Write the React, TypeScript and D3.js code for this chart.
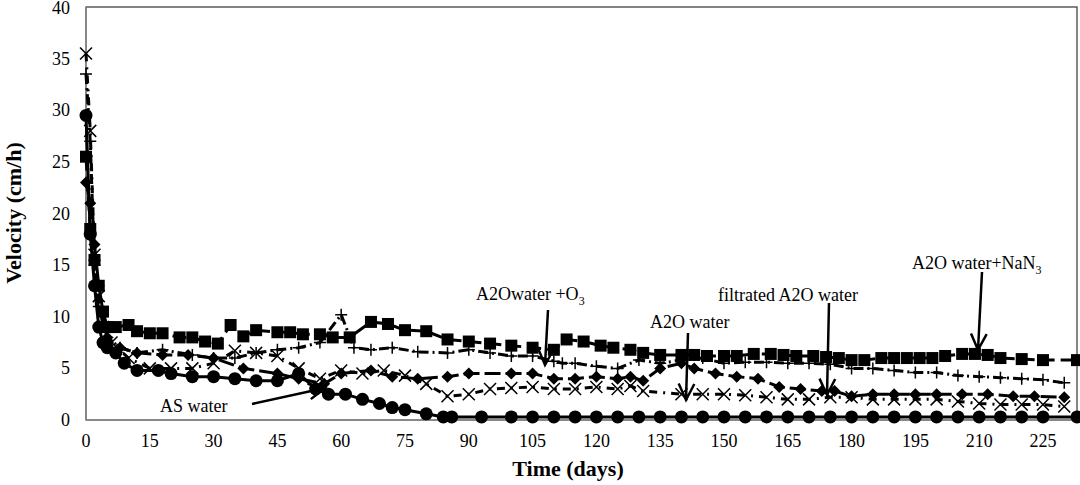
import React from "react";
import * as d3 from "d3";

const squareDays = [0,1,2,3,4,5,7,10,12,15,18,22,25,28,31,34,37,40,45,48,51,55,58,62,67,71,75,80,85,90,95,100,105,110,113,117,121,124,128,131,135,140,143,146,150,153,157,161,164,167,171,174,177,180,183,187,190,193,196,199,202,206,209,212,215,220,225,233];
const squareVals = [25.5,18.5,15.5,13,10.5,9,9,9.2,8.6,8.4,8.4,8,8,7.6,7.4,9.2,8.1,8.7,8.5,8.5,8.3,8.3,8,8,9.5,9.3,8.7,8.6,7.8,7.6,7.4,7.2,7,6.8,7.8,7.6,7.2,7,6.8,6.5,6.3,6.3,6.3,6.2,6.2,6.2,6.4,6.4,6.3,6.2,6.2,6.1,6,5.8,5.8,6,6,6,6,6,6.2,6.4,6.4,6.3,6,5.9,5.8,5.8];
const plusDays = [0,1,2,3,5,8,12,18,25,30,35,40,45,50,55,60,63,67,72,78,85,90,95,100,105,110,112,115,120,125,130,135,140,145,150,155,160,165,170,175,180,185,190,195,200,205,210,215,220,225,230];
const plusVals = [33.5,27,15,11,8,7,6.5,6.8,6.3,6,6,6.5,6.8,7,7.5,10.2,7,6.8,7,6.6,6.5,6.8,6.5,6.2,6.2,5.7,5.5,5.5,5.2,5,5.8,5.5,5.8,6,5.5,5.6,5.6,5.5,5.5,5.4,5,5,4.8,4.6,4.6,4.3,4.2,4.1,4,3.9,3.6];
const diamondDays = [0,1,2,3,5,8,12,18,24,30,37,45,50,56,60,67,72,78,85,90,100,105,110,115,120,125,128,131,135,140,143,148,153,158,163,168,173,176,180,185,190,195,200,206,212,218,223,230];
const diamondVals = [23,21,17,13,8,7,6.5,6.3,6.3,6,5,4.5,4,3.5,4.5,4.8,4.2,4,4.2,4.5,4.5,4.5,4,4,4.2,4,4.2,3.8,5,5.5,5,4.5,4.2,4,3.2,3,2.8,2.8,2.3,2.5,2.5,2.5,2.5,2.5,2.5,2.3,2.3,2.2];
const crossDays = [0,1,2,3,4,6,10,15,20,25,30,35,40,45,50,55,60,65,70,75,80,85,90,95,100,105,110,115,120,125,128,131,140,145,150,155,160,165,170,175,180,185,190,195,200,205,210,215,220,225,230];
const crossVals = [35.5,28,16,12,9,7.5,6,5,5,5,5.5,6.7,6.5,6.2,5,4,4.8,4.5,4.8,4.3,3.5,2.3,2.5,3,3.1,3.2,3,3,3.2,3,3.3,2.8,2.5,2.5,2.5,2.4,2.2,2,2,2.2,2.2,2,2,2,2,1.8,1.6,1.5,1.5,1.5,1.3];
const circleDays = [0,1,2,3,4,5,7,9,12,17,20,25,30,35,40,45,50,54,57,61,65,69,72,75,80,84,86,93,100,105,110,115,120,125,130,135,140,145,150,155,160,165,170,175,180,185,190,195,200,205,210,215,220,225,233];
const circleVals = [29.5,18,13,9,7.5,7,6.5,5.5,4.8,4.8,4.5,4.2,4.2,4,3.8,3.8,4.5,3,2.5,2.5,2,1.6,1.2,1,0.6,0.3,0.3,0.3,0.3,0.3,0.3,0.3,0.3,0.3,0.3,0.3,0.3,0.3,0.3,0.3,0.3,0.3,0.3,0.3,0.3,0.3,0.3,0.3,0.3,0.3,0.3,0.3,0.3,0.3,0.3];

const xTicks = [0,15,30,45,60,75,90,105,120,135,150,165,180,195,210,225];
const yTicks = [0,5,10,15,20,25,30,35,40];

const annotations = [
  { label: "AS water", tx: 160, ty: 412, x1: 252, y1: 404, x2: 325, y2: 388 },
  { label: "A2Owater +O", sub: "3", tx: 476, ty: 300, x1: 548, y1: 310, x2: 545, y2: 365 },
  { label: "A2O water", tx: 650, ty: 328, x1: 688, y1: 333, x2: 686, y2: 400 },
  { label: "filtrated A2O water", tx: 718, ty: 301, x1: 829, y1: 303, x2: 827, y2: 395 },
  { label: "A2O water+NaN", sub: "3", tx: 912, ty: 269, x1: 982, y1: 272, x2: 978, y2: 350 },
];

export default function App() {
  const W = 1080, H = 485;
  const x = d3.scaleLinear().domain([0, 233]).range([86, 1077]);
  const y = d3.scaleLinear().domain([0, 40]).range([420, 7]);
  const line = d3.line<[number, number]>().x(d => x(d[0])).y(d => y(d[1]));
  const zip = (a: number[], b: number[]) => a.map((v, i) => [v, b[i]] as [number, number]);
  const series = [
    { pts: zip(squareDays, squareVals), type: "square", dash: "14 6" },
    { pts: zip(plusDays, plusVals), type: "plus", dash: "10 4 2 4" },
    { pts: zip(diamondDays, diamondVals), type: "diamond", dash: "16 5" },
    { pts: zip(crossDays, crossVals), type: "cross", dash: "8 6 2 6" },
    { pts: zip(circleDays, circleVals), type: "circle", dash: "" },
  ];
  const marker = (t: string, cx: number, cy: number, k: number) => {
    if (t === "square") return <rect key={k} x={cx - 6} y={cy - 6} width={12} height={12} fill="#000" />;
    if (t === "circle") return <circle key={k} cx={cx} cy={cy} r={6.5} fill="#000" />;
    if (t === "diamond") return <path key={k} d={`M${cx},${cy - 6}L${cx + 6},${cy}L${cx},${cy + 6}L${cx - 6},${cy}Z`} fill="#000" />;
    if (t === "plus") return <path key={k} d={`M${cx - 6},${cy}H${cx + 6}M${cx},${cy - 6}V${cy + 6}`} stroke="#000" strokeWidth={1.5} />;
    return <path key={k} d={`M${cx - 6},${cy - 6}L${cx + 6},${cy + 6}M${cx - 6},${cy + 6}L${cx + 6},${cy - 6}`} stroke="#000" strokeWidth={1.5} />;
  };
  const font = "'Liberation Serif', 'Times New Roman', serif";
  return (
    <svg width={W} height={H} style={{ position: "absolute", left: 0, top: 0, background: "#fff" }} fontFamily={font}>
      <rect x={86} y={7} width={991} height={413} fill="none" stroke="#333" strokeWidth={1.2} />
      <line x1={86} y1={7} x2={86} y2={420} stroke="#888" strokeWidth={1.5} />
      <line x1={86} y1={420} x2={1077} y2={420} stroke="#888" strokeWidth={2} />
      {yTicks.map(t => (
        <text key={t} x={70} y={Math.max(y(t) + 6, 14)} textAnchor="end" fontSize={18}>{t}</text>
      ))}
      {xTicks.map(t => (
        <text key={t} x={x(t)} y={447} textAnchor="middle" fontSize={18}>{t}</text>
      ))}
      <text x={568} y={476} textAnchor="middle" fontSize={22} fontWeight="bold">Time (days)</text>
      <text transform={`translate(21,213) rotate(-90)`} textAnchor="middle" fontSize={22} fontWeight="bold">Velocity (cm/h)</text>
      {series.map((s, i) => (
        <g key={i}>
          <path d={line(s.pts) || ""} fill="none" stroke="#000" strokeWidth={3} strokeDasharray={s.dash} />
          {s.pts.map((p, j) => marker(s.type, x(p[0]), y(p[1]), j))}
        </g>
      ))}
      {annotations.map((a, i) => {
        const ang = Math.atan2(a.y2 - a.y1, a.x2 - a.x1);
        const L = 18, sp = 0.45;
        const h1x = a.x2 - L * Math.cos(ang - sp), h1y = a.y2 - L * Math.sin(ang - sp);
        const h2x = a.x2 - L * Math.cos(ang + sp), h2y = a.y2 - L * Math.sin(ang + sp);
        return (
          <g key={i}>
            <text x={a.tx} y={a.ty} fontSize={18} fill="#000" stroke="#fff" strokeWidth={3} paintOrder="stroke">
              {a.label}
              {a.sub && <tspan fontSize={12} dy={5}>{a.sub}</tspan>}
            </text>
            <path d={`M${a.x1},${a.y1}L${a.x2},${a.y2}M${h1x},${h1y}L${a.x2},${a.y2}L${h2x},${h2y}`} fill="none" stroke="#000" strokeWidth={2.5} />
          </g>
        );
      })}
    </svg>
  );
}
